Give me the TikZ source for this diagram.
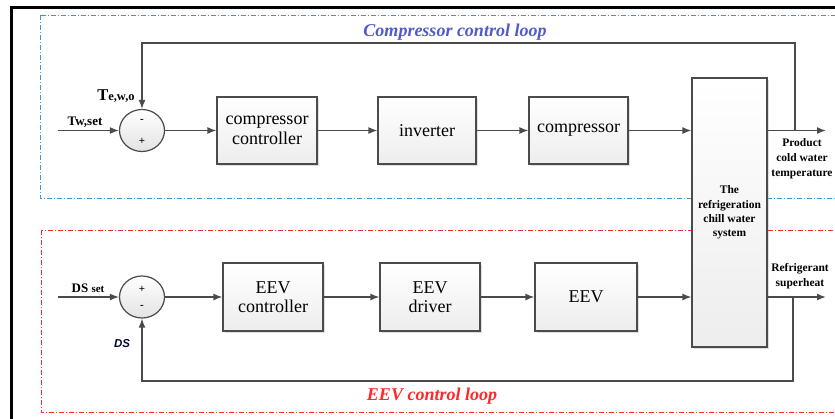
\documentclass[tikz,border=0pt]{standalone}
\usepackage{fontspec}
\setmainfont{Liberation Serif}
\newfontfamily\lsans{Liberation Sans}
\usetikzlibrary{arrows.meta,shapes.geometric,shadows}
\definecolor{loopblue}{RGB}{60,150,220}
\definecolor{titleblue}{RGB}{80,90,200}
\definecolor{loopred}{RGB}{255,40,40}
\definecolor{edgec}{RGB}{75,75,75}
\begin{document}
\begin{tikzpicture}[x=1pt,y=-1pt,
  blk/.style={draw=edgec, line width=1.2pt, top color=white, bottom color=gray!14,
    drop shadow={shadow xshift=1.5pt,shadow yshift=-1.5pt,opacity=0.25},
    align=center, inner sep=0pt, font=\fontsize{18}{19.5}\selectfont},
  sumj/.style={ellipse, draw=edgec, line width=1.2pt, top color=white, bottom color=gray!22,
    minimum width=45pt, minimum height=42pt, inner sep=0pt},
  arr/.style={draw=edgec, line width=1.4pt, -{Latex[length=9pt,width=7pt]}},
  small/.style={font=\bfseries\fontsize{11.5}{15}\selectfont, align=center, inner sep=0pt},
  title/.style={font=\bfseries\itshape\fontsize{18}{20}\selectfont, inner sep=0pt},
  sgn/.style={font=\bfseries\fontsize{11}{11}\selectfont, inner sep=0pt}
]
\useasboundingbox (0,0) rectangle (835,418);
\clip (0,0) rectangle (835,418);

% outer border
\draw[line width=3pt, black] (11,430) -- (11,7.5) -- (850,7.5);

% loop frames
\draw[loopblue, line width=1pt, dash pattern=on 5pt off 2pt on 1pt off 2pt] (40,15) rectangle (850,198);
\draw[loopred, line width=1pt, dash pattern=on 5pt off 2pt on 1pt off 2pt] (41,230) rectangle (850,412);

\node[title, text=titleblue] (t1) at (455,32) {Compressor control loop};
\node[title, text=loopred] (t2) at (432,396) {EEV control loop};

% blocks
\node[blk, minimum width=100pt, minimum height=67pt] (cc) at (267,130.5) {compressor\\controller};
\node[blk, minimum width=98pt, minimum height=67pt] (inv) at (427,130.5) {inverter};
\node[blk, minimum width=99pt, minimum height=67pt] (comp) at (578.5,130.5) {\raisebox{3pt}{compressor}};
\node[blk, minimum width=75pt, minimum height=269pt, font=\bfseries\fontsize{11.5}{14.3}\selectfont] (sys) at (729.5,212.5) {The\\refrigeration\\chill water\\system};
\node[blk, minimum width=100pt, minimum height=68pt] (ec) at (273,297) {EEV\\controller};
\node[blk, minimum width=100pt, minimum height=68pt] (ed) at (430,297) {EEV\\driver};
\node[blk, minimum width=102pt, minimum height=68pt] (eev) at (586,297) {EEV};

% summing junctions
\node[sumj] (s1) at (142,130.5) {};
\node[sumj] (s2) at (142,297) {};
\node[sgn] (s1m) at (142,121) {-};
\node[sgn] (s1p) at (142,141) {+};
\node[sgn] (s2p) at (142,289) {+};
\node[sgn] (s2m) at (142,307) {-};

% coordinates
\coordinate (in1) at (58,130.5);
\coordinate (in2) at (58,297);
\coordinate (out1) at (826,130.5);
\coordinate (out2) at (826,297);
\coordinate (tap1) at (795,130.5);
\coordinate (tap2) at (793,297);
\coordinate (topy) at (0,43);
\coordinate (boty) at (0,381);

% top row
\draw[arr] (in1) -- (s1.west);
\draw[arr] (s1.east) -- (cc.west);
\draw[arr] (cc.east) -- (inv.west);
\draw[arr] (inv.east) -- (comp.west);
\draw[arr] (comp.east) -- (sys.west |- comp.east);
\draw[arr] (sys.east |- tap1) -- (out1);
\draw[arr] (tap1) -- (tap1 |- topy) -| (s1.north);

% bottom row
\draw[arr] (in2) -- (s2.west);
\draw[arr] (s2.east) -- (ec.west);
\draw[arr] (ec.east) -- (ed.west);
\draw[arr] (ed.east) -- (eev.west);
\draw[arr] (eev.east) -- (sys.west |- eev.east);
\draw[arr] (sys.east |- tap2) -- (out2);
\draw[arr] (tap2) -- (tap2 |- boty) -| (s2.south);

% labels
\node[small, font=\bfseries\fontsize{13}{13}\selectfont] (lt1) at (85,122) {Tw,set};
\node[small] (lt2) at (116,96) {{\fontsize{16.5}{16}\selectfont T}{\fontsize{12.5}{12}\selectfont e,w,o}};
\node[small, font=\bfseries\fontsize{13}{13}\selectfont] (lds) at (88,288) {DS {\fontsize{11}{11}\selectfont set}};
\node[font=\lsans\itshape\bfseries\fontsize{11.5}{11}\selectfont, text=black!80!blue] (ldsf) at (122,344) {DS};
\node[small] (lo1) at (802,159) {Product\\cold water\\temperature};
\node[small] (lo2) at (800,276) {Refrigerant\\superheat};
\end{tikzpicture}
\end{document}
